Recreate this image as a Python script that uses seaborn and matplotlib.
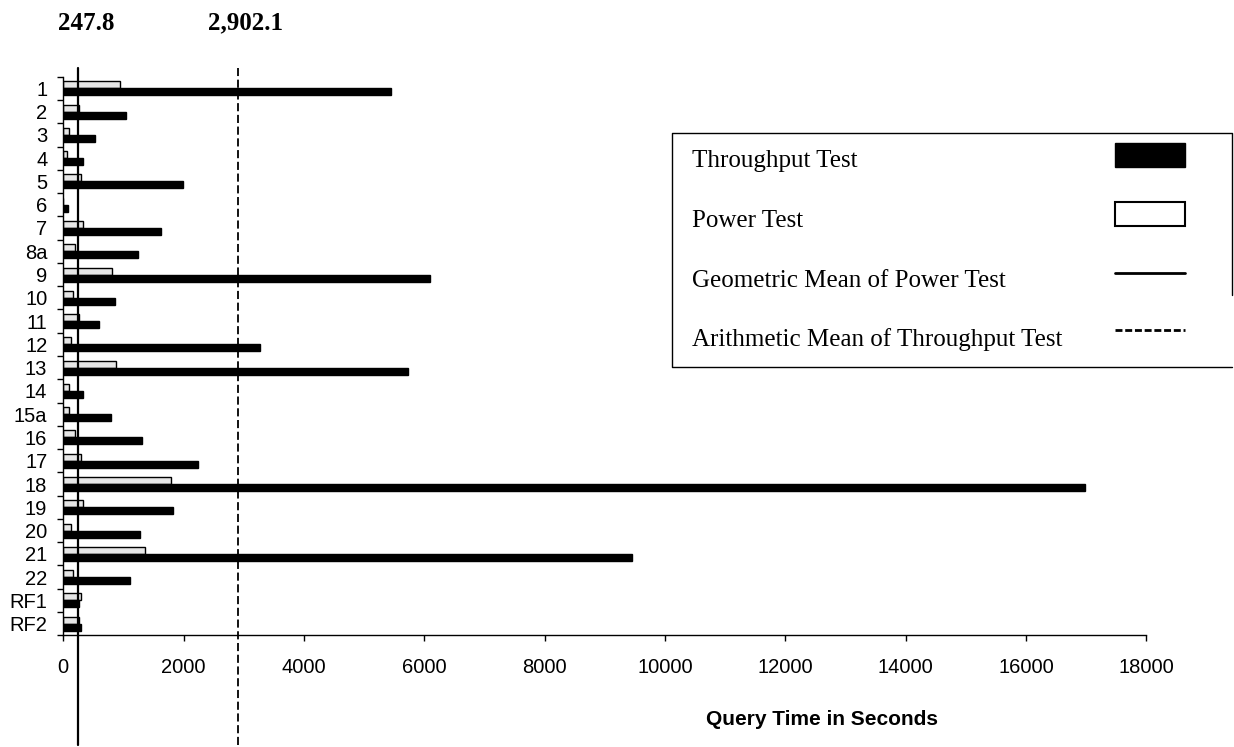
import numpy as np
import pandas as pd
import matplotlib
matplotlib.use("Agg")
import matplotlib.pyplot as plt
import matplotlib.transforms as mtransforms
from matplotlib.patches import Rectangle
from matplotlib.lines import Line2D
import seaborn as sns

queries = ["1", "2", "3", "4", "5", "6", "7", "8a", "9", "10", "11", "12",
           "13", "14", "15a", "16", "17", "18", "19", "20", "21", "22", "RF1", "RF2"]
throughput = [5446, 1042, 527, 332, 1984, 78, 1629, 1241, 6094, 854, 593, 3274,
              5729, 332, 788, 1308, 2244, 16985, 1823, 1270, 9457, 1113, 266, 299]
power = [942, 256, 100, 66, 294, 3, 327, 199, 814, 161, 256, 133,
         876, 95, 95, 194, 299, 1785, 327, 133, 1363, 161, 299, 256]
geo_mean_power = 247.8
arith_mean_throughput = 2902.1
x_ticks = [0, 2000, 4000, 6000, 8000, 10000, 12000, 14000, 16000, 18000]
legend_labels = ["Throughput Test", "Power Test",
                 "Geometric Mean of Power Test", "Arithmetic Mean of Throughput Test"]

df = pd.DataFrame({
    "Query": queries * 2,
    "Seconds": power + throughput,
    "Test": ["Power Test"] * len(queries) + ["Throughput Test"] * len(queries),
})

sns.set_theme(style="white")
plt.rcParams["font.family"] = ["Liberation Sans", "DejaVu Sans"]

W, H = 1234, 747
fig = plt.figure(figsize=(W / 100, H / 100), dpi=100)
ax = fig.add_axes([63.3 / W, 1 - 635.3 / H, 1083.1 / W, 558.6 / H])

sns.barplot(data=df, x="Seconds", y="Query", hue="Test",
            hue_order=["Power Test", "Throughput Test"],
            palette={"Power Test": "#e6e6e6", "Throughput Test": "black"},
            edgecolor="black", linewidth=1, width=0.6, orient="h",
            order=queries, legend=False, ax=ax)

ax.set_xlim(0, 18000)
ax.set_ylim(len(queries) - 0.5, -0.5)
ax.set_xticks(x_ticks)
ax.set_xticklabels([str(t) for t in x_ticks])
ax.set_yticks(np.arange(-0.5, len(queries), 1), minor=True)
ax.tick_params(axis="y", which="major", length=0, pad=11.5, labelsize=14.5, colors="black")
ax.tick_params(axis="y", which="minor", left=True, length=4, width=1, direction="out", color="black")
ax.tick_params(axis="x", which="major", bottom=True, length=4, width=1, direction="out",
               pad=12, labelsize=14.5, colors="black")
ax.set_ylabel("")

for side in ["top", "right"]:
    ax.spines[side].set_visible(False)
for side in ["left", "bottom"]:
    ax.spines[side].set_color("black")
    ax.spines[side].set_linewidth(1)

ax.set_xlabel("Query Time in Seconds", fontsize=15, fontweight="bold", color="black")
ax.xaxis.set_label_coords(0.7005, -0.1516)
ax.xaxis.label.set_va("center")

# mean lines run past the axes, top to bottom of the page
ax.axvline(geo_mean_power, ymin=-0.196, ymax=1.0156, color="black", lw=1.6, clip_on=False)
ax.axvline(arith_mean_throughput, ymin=-0.196, ymax=1.0156, color="black", lw=1.3,
           linestyle=(0, (4.5, 2)), clip_on=False)

offset = mtransforms.ScaledTranslation(8 / 100, 0, fig.dpi_scale_trans)
trans = mtransforms.blended_transform_factory(ax.transData, fig.transFigure) + offset
for val, txt in [(geo_mean_power, "247.8"), (arith_mean_throughput, "2,902.1")]:
    ax.text(val, 1 - 23 / H, txt, transform=trans, ha="center", va="center",
            fontsize=18, fontweight="bold", family="Liberation Serif", color="black")

# legend box: text on the left, keys on the right (drawn by hand)
def fx(px):
    return px / W

def fy(py):
    return 1 - py / H

frame = Line2D([fx(1232), fx(1232), fx(672), fx(672), fx(1232)],
               [fy(295), fy(133), fy(133), fy(367), fy(367)],
               color="black", lw=1, transform=fig.transFigure)
fig.add_artist(frame)

baselines = [167, 227, 286.7, 346]
for lab, yb in zip(legend_labels, baselines):
    fig.text(fx(692), fy(yb), lab, ha="left", va="baseline", fontsize=18,
             family="Liberation Serif", color="black")

fig.add_artist(Rectangle((fx(1115), fy(167)), fx(70), 24 / H, facecolor="black",
                         edgecolor="black", lw=1, transform=fig.transFigure))
fig.add_artist(Rectangle((fx(1115), fy(226)), fx(70), 24 / H, facecolor="white",
                         edgecolor="black", lw=1.5, transform=fig.transFigure))
fig.add_artist(Line2D([fx(1115), fx(1185)], [fy(272.7), fy(272.7)], color="black",
                      lw=2, transform=fig.transFigure))
fig.add_artist(Line2D([fx(1115), fx(1185)], [fy(330), fy(330)], color="black",
                      lw=2, linestyle=(0, (2.5, 1)), transform=fig.transFigure))

fig.savefig("out.png", dpi=100, facecolor="white")
